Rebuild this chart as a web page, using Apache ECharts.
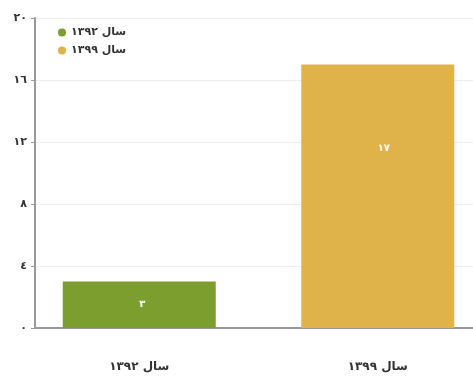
<!DOCTYPE html>
<html>
<head>
<meta charset="utf-8">
<script src="https://cdn.jsdelivr.net/npm/echarts@6/dist/echarts.min.js"></script>
<style>
  html, body { margin: 0; padding: 0; background: #fff; }
  #chart { width: 473px; height: 376px; }
</style>
</head>
<body>
<div id="chart"></div>
<script>
// Chart data
const categories = ['سال ١٣٩٢', 'سال ١٣٩٩'];
const seriesNames = ['سال ١٣٩٢', 'سال ١٣٩٩'];
const values = [3, 17];
const yTicks = [0, 4, 8, 12, 16, 20];

const FONT = '"DejaVu Sans", "Noto Sans", sans-serif';
const colors = ['#7b9e2e', '#e0b24a'];

// Western digits -> Arabic-Indic digits
function toArabicDigits(v) {
  return String(v).replace(/[0-9]/g, d => String.fromCharCode(0x0660 + Number(d)));
}

const yMin = yTicks[0];
const yMax = yTicks[yTicks.length - 1];
const yStep = yTicks[1] - yTicks[0];

// Each year gets its own series so the legend lists both entries;
// the other slot is left empty and bars overlap in one centered slot.
const labelPos = [['50%', '39%'], ['50%', '30%']];
const series = seriesNames.map((name, i) => ({
  name: name,
  type: 'bar',
  xAxisIndex: 1,
  yAxisIndex: 1,
  barWidth: 153,
  barGap: '-100%',
  itemStyle: { color: colors[i] },
  label: {
    show: true,
    position: labelPos[i],
    color: '#ffffff',
    fontFamily: FONT,
    fontSize: 10,
    fontWeight: 'bold',
    formatter: p => toArabicDigits(p.value)
  },
  data: categories.map((c, j) => (j === i ? values[i] : '-'))
}));

const chart = echarts.init(document.getElementById('chart'), null, { renderer: 'canvas' });
chart.setOption({
  animation: false,
  backgroundColor: '#ffffff',
  legend: {
    orient: 'vertical',
    left: 53,
    top: 22,
    icon: 'circle',
    itemWidth: 8,
    itemHeight: 8,
    itemGap: 7,
    textStyle: { fontFamily: FONT, fontSize: 11, fontWeight: 'bold', color: '#333' },
    data: seriesNames
  },
  grid: [
    // frame grid: value axis, gridlines and baseline
    { left: 35, right: 0, top: 18, bottom: 48, outerBoundsMode: 'none' },
    // bar grid: category slots, running past the right edge
    { left: 20, width: 477, top: 18, bottom: 48, outerBoundsMode: 'none' }
  ],
  xAxis: [
    {
      gridIndex: 0,
      type: 'value',
      min: 0,
      max: 1,
      axisLine: { show: true, onZero: false, lineStyle: { color: '#999', width: 2 } },
      axisTick: { show: false },
      axisLabel: { show: false },
      splitLine: { show: false }
    },
    {
      gridIndex: 1,
      type: 'category',
      data: categories,
      axisLine: { show: false },
      axisTick: { show: false },
      axisLabel: {
        margin: 33,
        fontFamily: FONT,
        fontSize: 12,
        fontWeight: 'bold',
        color: '#333'
      }
    }
  ],
  yAxis: [
    {
      gridIndex: 0,
      type: 'value',
      min: yMin,
      max: yMax,
      interval: yStep,
      axisLine: { show: true, lineStyle: { color: '#999', width: 2 } },
      axisTick: { show: true, length: 4, lineStyle: { color: '#999' } },
      axisLabel: {
        margin: 8,
        fontFamily: FONT,
        fontSize: 11,
        fontWeight: 'bold',
        color: '#333',
        formatter: v => toArabicDigits(v)
      },
      splitLine: { show: true, lineStyle: { color: '#eeeeee', width: 1 } }
    },
    {
      gridIndex: 1,
      type: 'value',
      min: yMin,
      max: yMax,
      interval: yStep,
      show: false,
      splitLine: { show: false }
    }
  ],
  series: series
});
</script>
</body>
</html>
